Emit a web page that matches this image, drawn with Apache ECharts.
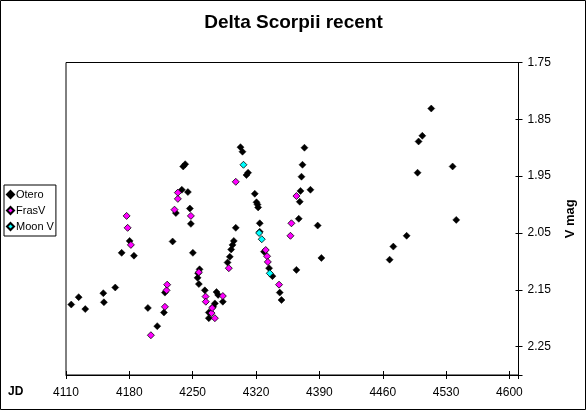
<!DOCTYPE html>
<html><head><meta charset="utf-8">
<script src="https://cdn.jsdelivr.net/npm/echarts@6/dist/echarts.min.js"></script>
<style>html,body{margin:0;padding:0;background:#fff}#c{width:587px;height:413px}</style>
</head><body><div id="c"></div>
<script>
const xTicks = [4110, 4180, 4250, 4320, 4390, 4460, 4530, 4600];
const yTicks = [1.75, 1.85, 1.95, 2.05, 2.15, 2.25];

const oteroJD = [4115.8,4124.0,4131.3,4151.2,4151.9,4164.4,4171.5,4180.3,4185.1,4200.5,4210.8,4218.2,4219.3,4227.8,4231.4,4238.0,4239.5,4241.7,4244.7,4246.9,4248.0,4250.2,4257.6,4256.0,4255.4,4256.8,4263.4,4267.8,4267.8,4272.6,4274.5,4276.3,4278.1,4283.3,4288.5,4291.0,4292.5,4294.0,4295.4,4297.6,4302.8,4305.0,4309.4,4311.2,4318.6,4320.5,4321.6,4322.3,4324.1,4324.1,4328.8,4334.4,4338.1,4346.2,4348.1,4364.6,4367.2,4368.3,4369.1,4370.2,4371.3,4373.5,4380.1,4388.1,4392.2,4467.6,4471.7,4486.4,4498.5,4499.6,4503.7,4513.6,4537.2,4541.2];
const oteroMag = [2.176,2.163,2.184,2.156,2.172,2.146,2.085,2.064,2.090,2.182,2.214,2.190,2.155,2.065,2.015,1.974,1.933,1.929,1.978,2.007,2.034,2.085,2.114,2.121,2.129,2.140,2.151,2.190,2.200,2.180,2.174,2.154,2.159,2.171,2.102,2.092,2.079,2.071,2.064,2.041,1.899,1.907,1.948,1.944,1.981,1.996,2.000,2.005,2.033,2.048,2.083,2.112,2.126,2.155,2.168,2.115,2.025,1.995,1.976,1.951,1.930,1.900,1.974,2.037,2.094,2.097,2.074,2.055,1.944,1.889,1.879,1.831,1.933,2.027];

const frasJD = [4177.0,4178.1,4181.7,4203.8,4219.3,4221.1,4221.8,4229.9,4233.6,4233.6,4248.0,4256.8,4264.2,4264.5,4270.8,4271.5,4274.5,4283.3,4289.9,4297.6,4330.7,4332.2,4333.0,4345.4,4358.0,4359.1,4364.6];
const frasMag = [2.020,2.041,2.071,2.230,2.180,2.151,2.141,2.009,1.990,1.979,2.020,2.119,2.162,2.171,2.191,2.182,2.200,2.161,2.112,1.960,2.080,2.091,2.101,2.141,2.055,2.033,1.985];

const moonJD = [4306.1,4323.4,4326.3,4335.2];
const moonMag = [1.930,2.050,2.061,2.121];

const pairs = (xs, ys) => xs.map((x, i) => [x, ys[i]]);
const FONT = '"Liberation Sans", Arial, sans-serif';

const chart = echarts.init(document.getElementById('c'), null, {renderer: 'canvas'});
chart.setOption({
  animation: false,
  backgroundColor: '#fff',
  title: {
    text: 'Delta Scorpii recent', left: 'center', top: 8,
    textStyle: {fontFamily: FONT, fontSize: 19, fontWeight: 'bold', color: '#000'}
  },
  graphic: [
    {type: 'rect', shape: {x: 0.5, y: 0.5, width: 585, height: 409}, style: {fill: null, stroke: '#000', lineWidth: 1}, silent: true, z: -1},
    {type: 'text', left: 8, top: 386, style: {text: 'JD', font: 'bold 12px ' + FONT, fill: '#000'}}
  ],
  legend: {
    orient: 'vertical', left: 4, top: 185,
    itemWidth: 7, itemHeight: 7, itemGap: 3,
    padding: [3, 2, 3, 2],
    borderColor: '#000', borderWidth: 1,
    textStyle: {fontFamily: FONT, fontSize: 11, color: '#000', padding: [0, 0, 0, -3], lineHeight: 13},
    data: [{name: 'Otero', icon: 'diamond'}, {name: 'FrasV', icon: 'diamond'}, {name: 'Moon V', icon: 'diamond'}]
  },
  grid: {left: 66, right: 68.5, top: 62.5, bottom: 38, show: true, borderColor: '#000', borderWidth: 1, containLabel: false},
  xAxis: [{
    type: 'value', min: 4110, max: 4610, interval: 70,
    axisLine: {lineStyle: {color: '#000'}},
    axisTick: {length: 4, lineStyle: {color: '#000'}},
    axisLabel: {
      color: '#000', fontFamily: FONT, fontSize: 12, margin: 12,
      formatter: v => xTicks.indexOf(Math.round(v)) >= 0 ? String(Math.round(v)) : ''
    },
    splitLine: {show: false}
  }, {
    type: 'value', min: 4110, max: 4610, interval: 70, position: 'bottom',
    axisLine: {show: false},
    axisTick: {inside: true, length: 4, lineStyle: {color: '#000'}},
    axisLabel: {show: false}, splitLine: {show: false}
  }],
  yAxis: [{
    type: 'value', position: 'right', inverse: true,
    min: 1.75, max: 2.30, interval: 0.1,
    name: 'V mag', nameLocation: 'middle', nameGap: 45, nameRotate: 90,
    nameTextStyle: {fontFamily: FONT, fontSize: 13, fontWeight: 'bold', color: '#000'},
    axisLine: {show: true, lineStyle: {color: '#000'}},
    axisTick: {length: 4, lineStyle: {color: '#000'}},
    axisLabel: {
      color: '#000', fontFamily: FONT, fontSize: 12, margin: 9,
      formatter: v => {
        const s = v.toFixed(2);
        return yTicks.some(t => t.toFixed(2) === s) ? s : '';
      }
    },
    splitLine: {show: false}
  }, {
    type: 'value', position: 'right', inverse: true,
    min: 1.75, max: 2.30, interval: 0.1,
    axisLine: {show: false},
    axisTick: {show: true, inside: true, length: 3, lineStyle: {color: '#000'}},
    axisLabel: {show: false}, splitLine: {show: false}
  }],
  series: [
    {name: 'Otero', type: 'scatter', symbol: 'diamond', symbolSize: 7,
     itemStyle: {color: '#000', borderColor: '#000', borderWidth: 0.5, opacity: 1}, data: pairs(oteroJD, oteroMag)},
    {name: 'FrasV', type: 'scatter', symbol: 'diamond', symbolSize: 7,
     itemStyle: {color: '#FF00FF', borderColor: '#000', borderWidth: 0.8, opacity: 1}, data: pairs(frasJD, frasMag)},
    {name: 'Moon V', type: 'scatter', symbol: 'diamond', symbolSize: 7,
     itemStyle: {color: '#00FFFF', borderColor: '#000', borderWidth: 0.8, opacity: 1}, data: pairs(moonJD, moonMag)}
  ]
});
</script></body></html>
